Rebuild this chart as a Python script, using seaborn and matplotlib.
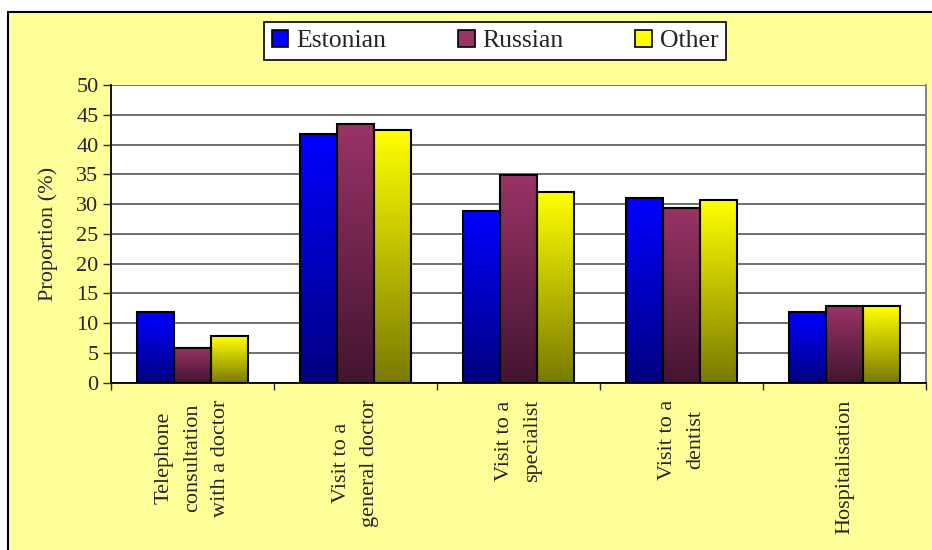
import numpy as np
import pandas as pd
import matplotlib
matplotlib.use("Agg")
import matplotlib.pyplot as plt
import seaborn as sns
from matplotlib.patches import Patch, Rectangle
from matplotlib.colors import LinearSegmentedColormap

# data
categories = ["Telephone\nconsultation\nwith a doctor", "Visit to a\ngeneral doctor",
              "Visit to a\nspecialist", "Visit to a\ndentist", "Hospitalisation"]
groups = ["Estonian", "Russian", "Other"]
estonian = [11.8, 41.7, 28.8, 31.0, 11.8]
russian = [5.9, 43.4, 34.9, 29.3, 12.8]
other = [7.8, 42.4, 32.0, 30.7, 12.8]

# gradient colours (top, bottom) per group
grad = {"Estonian": ("#0000FF", "#000080"),
        "Russian": ("#993366", "#431530"),
        "Other": ("#FFFF00", "#7A7A00")}

df = pd.DataFrame({
    "category": categories * 3,
    "group": [g for g in groups for _ in categories],
    "value": estonian + russian + other,
})

sns.set_style("white")
plt.rcParams["font.family"] = ["Liberation Serif", "DejaVu Serif"]

fig = plt.figure(figsize=(9.32, 5.5), dpi=100, facecolor="white")
# yellow chart area with black border on left/top
fig.patches.append(Rectangle((8 / 932, -0.01), 1.0, (550 - 12) / 550 + 0.01,
                             transform=fig.transFigure, facecolor="#FFFF99",
                             edgecolor="black", linewidth=1.5, zorder=-10))

ax = fig.add_axes([111 / 932, (550 - 382.7) / 550, (926 - 111) / 932, (382.7 - 85) / 550])
ax.set_facecolor("white")

sns.barplot(data=df, x="category", y="value", hue="group", order=categories,
            hue_order=groups, width=0.68, dodge=True, ax=ax, legend=False,
            edgecolor="black", linewidth=1.5, saturation=1, errorbar=None)

# gradient fills clipped to each bar
for cont, g in zip(ax.containers, groups):
    cmap = LinearSegmentedColormap.from_list(g, [grad[g][1], grad[g][0]])
    for bar in cont:
        x0, y0 = bar.get_x(), bar.get_y()
        w, h = bar.get_width(), bar.get_height()
        img = ax.imshow(np.linspace(0, 1, 100).reshape(-1, 1), cmap=cmap,
                        extent=[x0, x0 + w, y0, y0 + h], origin="lower",
                        aspect="auto", zorder=bar.get_zorder() - 0.05,
                        interpolation="bilinear")
        img.set_clip_path(bar)
        bar.set_facecolor("none")

ax.set_ylim(0, 50)
ax.set_xlim(-0.5, len(categories) - 0.5)

# grid
ax.set_yticks(np.arange(0, 51, 5))
ax.yaxis.grid(True, color="#555555", linewidth=1.2)
ax.set_axisbelow(True)

for side in ["left", "bottom"]:
    ax.spines[side].set_color("black")
    ax.spines[side].set_linewidth(1.3)
ax.spines["right"].set_color("#777777")
ax.spines["right"].set_linewidth(1.3)
ax.spines["top"].set_visible(False)

ax.tick_params(axis="y", direction="out", length=6, width=1, labelsize=16,
               left=True, pad=3)
ax.set_xticks(range(len(categories)))
ax.set_xticklabels(categories, rotation=90, fontsize=16, ha="center", va="top",
                   multialignment="center", linespacing=1.65)
ax.tick_params(axis="x", which="major", length=0, pad=12)
ax.set_xticks(np.arange(-0.5, len(categories), 1), minor=True)
ax.tick_params(axis="x", which="minor", direction="out", length=5, width=1,
               bottom=True)

ax.set_xlabel("")
ax.set_ylabel("Proportion (%)", fontsize=16, labelpad=13)

handles = [Patch(facecolor=grad[g][0], edgecolor="black", linewidth=1.2) for g in groups]
leg = fig.legend(handles, groups, loc="center", bbox_to_anchor=(495 / 932, 1 - 41 / 550),
                 ncol=3, frameon=True, fancybox=False, fontsize=18.5, framealpha=1,
                 handlelength=0.65, handleheight=0.65, handletextpad=0.3,
                 columnspacing=2.8, borderpad=0.3)
leg.get_frame().set_edgecolor("black")
leg.get_frame().set_linewidth(1.2)
leg.get_frame().set_facecolor("white")

fig.savefig("out.png", dpi=100, facecolor=fig.get_facecolor())
